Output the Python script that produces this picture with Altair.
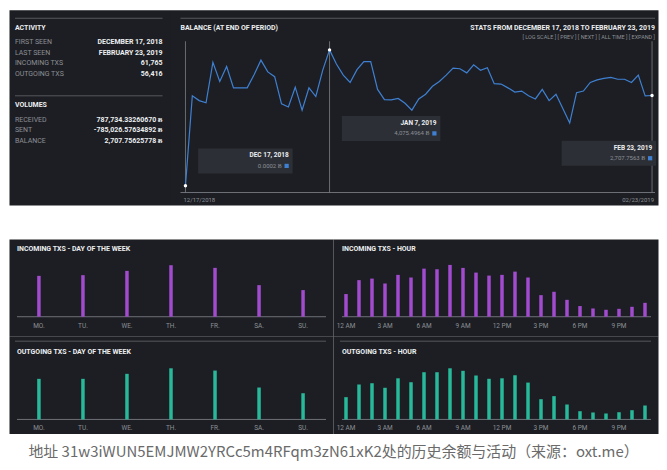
import altair as alt
import pandas as pd

# ---------------- data ----------------
balance_start = "2018-12-17"
balance = [0.0002, 2697, 2554, 2488, 3702, 3128, 3578, 2936, 2936, 2936,
           3329, 3768, 3415, 3271, 2459, 2362, 2956, 2267, 2936, 2677,
           3463, 4075.4964, 3653, 3320, 3099, 3481, 3722, 3722, 2890, 2583,
           2574, 2620, 2476, 2267, 2603, 2746, 2984, 3128, 3320, 3529,
           3510, 3386, 3625, 3463, 3539, 3061, 3051, 2936, 2812, 2841,
           2697, 2603, 2890, 2554, 2746, 2316, 1885, 2792, 2841, 3099,
           3177, 3222, 3251, 3194, 3194, 3099, 3320, 2697, 2707.7563]
marked_days = [0, 21, 68]
tip_dates = ["DEC 17, 2018", "JAN 7, 2019", "FEB 23, 2019"]
tip_amounts = ["0.0002 Ƀ", "4,075.4964 Ƀ", "2,707.7563 Ƀ"]
axis_dates = ["12/17/2018", "02/23/2019"]

act_labels = ["FIRST SEEN", "LAST SEEN", "INCOMING TXS", "OUTGOING TXS"]
act_values = ["DECEMBER 17, 2018", "FEBRUARY 23, 2019", "61,765", "56,416"]
vol_labels = ["RECEIVED", "SENT", "BALANCE"]
vol_values = ["787,734.33260670 Ƀ", "-785,026.57634892 Ƀ", "2,707.75625778 Ƀ"]

weekdays = ["MO.", "TU.", "WE.", "TH.", "FR.", "SA.", "SU."]
in_dow = [8800, 8950, 9870, 11090, 10520, 6800, 5730]
out_dow = [8040, 8040, 9030, 10130, 9680, 6320, 5190]

hours = list(range(24))
hour_tick_hours = [0, 3, 6, 9, 12, 15, 18, 21]
hour_tick_labels = ["12 AM", "3 AM", "6 AM", "9 AM", "12 PM", "3 PM", "6 PM", "9 PM"]
in_hour = [1890, 3050, 3180, 2770, 3490, 3270, 4010, 3960, 4320, 4070, 3680, 3430,
           3490, 3760, 3270, 1800, 2080, 1410, 890, 690, 580, 660, 830, 1160]
out_hour = [1760, 2760, 2860, 2500, 3250, 2940, 3730, 3730, 4040, 3840, 3470, 3210,
            3250, 3490, 2910, 1600, 1840, 1180, 650, 550, 470, 570, 730, 1100]

caption = "地址 31w3iWUN5EMJMW2YRCc5m4RFqm3zN61xK2处的历史余额与活动（来源：oxt.me）"

# ---------------- style ----------------
FONT = "Roboto"
BG = "#1c1e23"
TIP_BG = "#2c2f35"
WHITE = "#eceef0"
GREY = "#8d9096"
SEP = "#55585e"
BASE = "#6e7177"
BLUE = "#3f80d2"
PURPLE = "#a24bcf"
TEAL = "#27b99a"


def one():
    return pd.DataFrame({"k": [0]})


def label(text, x, y, size=7, color=WHITE, weight="bold", align="left"):
    return alt.Chart(one()).mark_text(
        text=text, fontSize=size, color=color, fontWeight=weight,
        align=align, baseline="middle", font=FONT
    ).encode(x=alt.value(x), y=alt.value(y))


def hline(x1, x2, y, color=SEP, width=1):
    return alt.Chart(one()).mark_rule(color=color, strokeWidth=width).encode(
        x=alt.value(x1), x2=alt.value(x2), y=alt.value(y))


# ---------------- stats panel ----------------
stats_df = pd.DataFrame({
    "label": act_labels + vol_labels,
    "value": act_values + vol_values,
    "ypx": [32.6 + 10.6 * i for i in range(len(act_labels))]
           + [110.4 + 10.6 * i for i in range(len(vol_labels))],
})
stat_lab = alt.Chart(stats_df).mark_text(
    align="left", baseline="middle", fontSize=7, color=GREY, font=FONT
).encode(x=alt.value(6), y=alt.Y("ypx:Q", scale=None, axis=None), text="label:N")
stat_val = alt.Chart(stats_df).mark_text(
    align="right", baseline="middle", fontSize=7, fontWeight="bold", color=WHITE, font=FONT
).encode(x=alt.value(154), y=alt.Y("ypx:Q", scale=None, axis=None), text="value:N")

stats = alt.layer(
    hline(6, 154, 8.6), label("ACTIVITY", 6, 18), stat_lab, stat_val,
    hline(6, 154, 86.4), label("VOLUMES", 6, 96)
).properties(width=162, height=196)

# ---------------- balance panel ----------------
bal_df = pd.DataFrame({"day": list(range(len(balance))), "balance": balance})
bal_df["date"] = pd.date_range(balance_start, periods=len(balance)).strftime("%Y-%m-%d")
mark_df = bal_df[bal_df["day"].isin(marked_days)]

BX = alt.X("day:Q", scale=alt.Scale(domain=[-2.18, 68.87], nice=False, zero=False), axis=None)
BY = alt.Y("balance:Q", scale=alt.Scale(domain=[-580, 5281], nice=False, zero=False), axis=None)

bal_layers = [
    hline(10, 486, 8.6),
    label("BALANCE (AT END OF PERIOD)", 10, 18),
    label("STATS FROM DECEMBER 17, 2018 TO FEBRUARY 23, 2019", 486, 18, align="right"),
    label("[ LOG SCALE ] [ PREV ] [ NEXT ] [ ALL TIME ] [ EXPAND ]", 486, 27,
          size=5.5, color=GREY, weight="normal", align="right"),
    hline(10, 486, 183.4, color=BASE),
    alt.Chart(mark_df).mark_rule(color="#7d8087", strokeWidth=0.8).encode(
        x=BX, y=alt.value(31.7), y2=alt.value(183.4)),
]

tip_boxes = [(27.7, 122.5, 139.2), (171.9, 270.7, 106.6), (392.3, 487.1, 131.5)]
for (x0, x1, y0), d, a in zip(tip_boxes, tip_dates, tip_amounts):
    bal_layers.append(alt.Chart(one()).mark_rect(color=TIP_BG).encode(
        x=alt.value(x0), x2=alt.value(x1), y=alt.value(y0), y2=alt.value(y0 + 25)))
    bal_layers.append(label(d, x1 - 4, y0 + 7, size=6.5, align="right"))
    bal_layers.append(label(a, x1 - 11, y0 + 17.5, size=6, color=GREY,
                            weight="normal", align="right"))
    bal_layers.append(alt.Chart(one()).mark_square(color=BLUE, size=18, opacity=1).encode(
        x=alt.value(x1 - 6), y=alt.value(y0 + 17.5)))

bal_layers += [
    alt.Chart(bal_df).mark_line(color=BLUE, strokeWidth=1.2).encode(x=BX, y=BY),
    alt.Chart(mark_df).mark_circle(color="white", size=12, opacity=1).encode(x=BX, y=BY),
    alt.Chart(mark_df.head(1).assign(lab=axis_dates[0])).mark_text(
        align="left", baseline="middle", fontSize=6, color=GREY, font=FONT, dx=-2
    ).encode(x=BX, y=alt.value(190.5), text="lab:N"),
    alt.Chart(mark_df.tail(1).assign(lab=axis_dates[1])).mark_text(
        align="right", baseline="middle", fontSize=6, color=GREY, font=FONT, dx=2
    ).encode(x=BX, y=alt.value(190.5), text="lab:N"),
]
balance_panel = alt.layer(*bal_layers).properties(width=489, height=196)


# ---------------- bar panels ----------------
def bar_panel(title, cats, vals, ftype, tick_cats, tick_labels, pad, color,
              width, height, base_px, max_px, title_y, label_y, sep_y=None,
              x_left=8, x_right=None):
    x_right = x_right if x_right is not None else width - 7
    df = pd.DataFrame({"c": cats, "v": vals})
    ticks = pd.DataFrame({"c": tick_cats, "lab": tick_labels})
    k = max(vals) / max_px
    ys = alt.Scale(domain=[-(height - base_px) * k, base_px * k], nice=False, zero=False)
    X = alt.X(f"c:{ftype}", scale=alt.Scale(type="point", domain=list(cats), padding=pad),
              axis=None, sort=None)
    layers = []
    if sep_y is not None:
        layers.append(hline(x_left - 2, x_right, sep_y))
    layers += [
        label(title, x_left, title_y),
        hline(x_left, x_right, base_px, color=BASE),
        alt.Chart(df).mark_rule(color=color, strokeWidth=3.5).encode(
            x=X, y=alt.Y("v:Q", scale=ys, axis=None), y2=alt.datum(0)),
        alt.Chart(ticks).mark_text(fontSize=6.5, color=GREY, baseline="middle", font=FONT
                                   ).encode(x=X, y=alt.value(label_y), text="lab:N"),
    ]
    return alt.layer(*layers).properties(width=width, height=height)


in_dow_p = bar_panel("INCOMING TXS - DAY OF THE WEEK", weekdays, in_dow, "N",
                     weekdays, weekdays, 0.68, PURPLE, 325, 97, 78, 51.7, 10, 87)
in_hour_p = bar_panel("INCOMING TXS - HOUR", hours, in_hour, "O",
                      hour_tick_hours, hour_tick_labels, 1.2, PURPLE, 326, 97, 78, 52, 10, 87,
                      x_left=9)
out_dow_p = bar_panel("OUTGOING TXS - DAY OF THE WEEK", weekdays, out_dow, "N",
                      weekdays, weekdays, 0.68, TEAL, 325, 98, 84, 51.3, 16.7, 92.7, sep_y=5.5)
out_hour_p = bar_panel("OUTGOING TXS - HOUR", hours, out_hour, "O",
                       hour_tick_hours, hour_tick_labels, 1.2, TEAL, 326, 98, 84, 51.3, 16.7, 92.7,
                       sep_y=5.5, x_left=9)

top = alt.hconcat(stats, balance_panel, spacing=0, bounds="flush")
bottom = alt.concat(in_dow_p, in_hour_p, out_dow_p, out_hour_p, columns=2,
                    spacing=0, bounds="flush")

chart = alt.vconcat(
    top, bottom, spacing=32,
    title=alt.TitleParams(caption, orient="bottom", anchor="middle",
                          font="Noto Sans CJK SC", fontSize=15, fontWeight="normal",
                          color="#6a6a6a", offset=11),
).properties(padding=0).configure(background="white").configure_view(
    fill=BG, stroke="transparent")

chart.save("out.html", embed_options={"renderer": "svg", "actions": False})
